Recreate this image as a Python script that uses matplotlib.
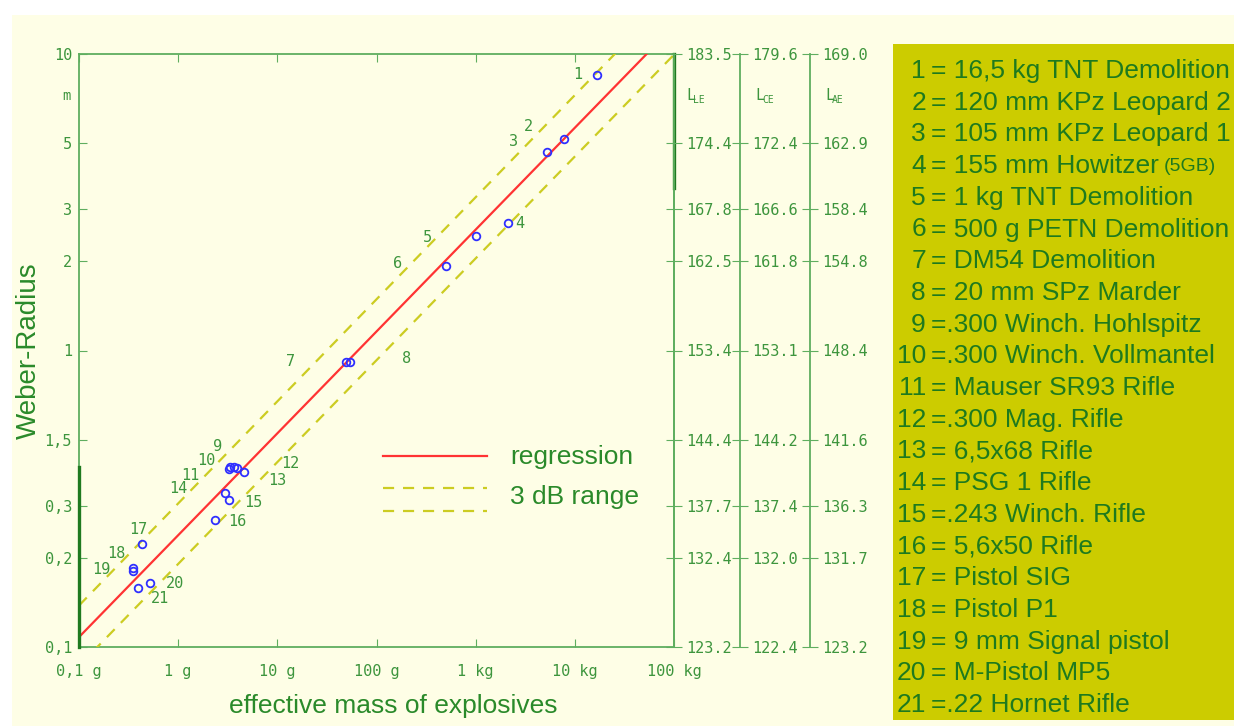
import matplotlib
matplotlib.use("Agg")
import matplotlib.pyplot as plt
from matplotlib.patches import Rectangle
import numpy as np

# --- data ---
point_ids = [str(i) for i in range(1, 22)]
mass_g = [16700, 7690, 5210, 2120, 1016, 506, 49.8, 54.6, 3.62, 3.35, 3.92,
          4.57, 3.27, 3.22, 2.94, 2.35, 0.430, 0.353, 0.353, 0.525, 0.397]
radius_m = [8.50, 5.17, 4.67, 2.69, 2.43, 1.93, 0.914, 0.914, 0.406, 0.406, 0.401,
            0.390, 0.313, 0.398, 0.331, 0.268, 0.2225, 0.1847, 0.1804, 0.1648, 0.1585]

# regression line and 3 dB band (end points, log-log straight lines)
reg_mass = [0.1, 100000]
reg_radius = [0.108, 12.44]
upper_radius = [0.1380, 16.05]
lower_radius = [0.0864, 9.95]

radius_ticks = [10, 5, 3, 2, 1, 0.5, 0.3, 0.2, 0.1]
radius_labels = ["10", "5", "3", "2", "1", "1,5", "0,3", "0,2", "0,1"]
mass_ticks = [0.1, 1, 10, 100, 1000, 10000, 100000]
mass_labels = ["0,1 g", "1 g", "10 g", "100 g", "1 kg", "10 kg", "100 kg"]
L_LE = ["183.5", "174.4", "167.8", "162.5", "153.4", "144.4", "137.7", "132.4", "123.2"]
L_CE = ["179.6", "172.4", "166.6", "161.8", "153.1", "144.2", "137.4", "132.0", "122.4"]
L_AE = ["169.0", "162.9", "158.4", "154.8", "148.4", "141.6", "136.3", "131.7", "123.2"]

legend_items = ["16,5 kg TNT Demolition", "120 mm KPz Leopard 2", "105 mm KPz Leopard 1",
                "155 mm Howitzer", "1 kg TNT Demolition", "500 g PETN Demolition",
                "DM54 Demolition", "20 mm SPz Marder", ".300 Winch. Hohlspitz",
                ".300 Winch. Vollmantel", "Mauser SR93 Rifle", ".300 Mag. Rifle",
                "6,5x68 Rifle", "PSG 1 Rifle", ".243 Winch. Rifle", "5,6x50 Rifle",
                "Pistol SIG", "Pistol P1", "9 mm Signal pistol", "M-Pistol MP5",
                ".22 Hornet Rifle"]

# label offsets of the point numbers, in pixels (dx right, dy up)
label_off = [(-19, 0), (-35, 12), (-33, 11), (12, 0), (-49, -1), (-49, 2), (-56, 1),
             (56, 4), (-16, 20), (-24, 6), (-47, -7), (47, 8), (48, 20), (-50, -19),
             (29, -10), (22, -1), (-4, 15), (-17, 14), (-32, 2), (25, -1), (22, -11)]

# --- colours ---
cream = "#fefee6"
spine_col = "#5fae5f"
tick_col = "#3d953d"
dark_green = "#2a8a2a"
box_col = "#cccc00"
box_text = "#1e7a1e"
mono = "DejaVu Sans Mono"
sans = "Liberation Sans"

W, H = 1234, 726
fig = plt.figure(figsize=(W / 100, H / 100), dpi=100)
fig.patch.set_facecolor("white")
fig.patches.append(Rectangle((12 / W, 0), 1 - 12 / W, 1 - 15 / H, transform=fig.transFigure,
                             facecolor=cream, edgecolor="none", zorder=-10))

ax = fig.add_axes([79 / W, 1 - 647 / H, 595 / W, 593 / H])
ax.set_facecolor(cream)
ax.set_xscale("log")
ax.set_yscale("log")
ax.set_xlim(0.1, 100000)
ax.set_ylim(0.1, 10)
for s in ax.spines.values():
    s.set_color(spine_col)
    s.set_linewidth(1.3)

ax.set_xticks(mass_ticks)
ax.set_xticklabels(mass_labels)
ax.set_yticks(radius_ticks)
ax.set_yticklabels(radius_labels)
ax.minorticks_off()
ax.tick_params(axis="x", which="both", direction="in", length=6, color=spine_col,
               top=True, bottom=True, labelcolor=tick_col, labelsize=11, pad=12)
ax.tick_params(axis="y", which="both", direction="in", length=6, color=spine_col,
               left=True, right=False, labelcolor=tick_col, labelsize=11, pad=5)
for lab in ax.get_xticklabels() + ax.get_yticklabels():
    lab.set_fontfamily(mono)

# thick dark spine segments
ax.plot([0, 0], [0, (647 - 467) / 593], transform=ax.transAxes, color="#1f7a1f",
        lw=2.4, clip_on=False, zorder=5)
ax.plot([1, 1], [1, 1 - (188 - 54) / 593], transform=ax.transAxes, color="#1f7a1f",
        lw=2.4, clip_on=False, zorder=5)

# regression and band
ax.plot(reg_mass, reg_radius, color="#ff3333", lw=1.6, zorder=3)
ax.plot(reg_mass, upper_radius, color="#cccc22", lw=1.6, ls=(0, (5, 4)), zorder=3)
ax.plot(reg_mass, lower_radius, color="#cccc22", lw=1.6, ls=(0, (5, 4)), zorder=3)

# measured points
ax.plot(mass_g, radius_m, ls="none", marker="o", ms=5.5, mfc="none", mec="#2f2fff",
        mew=1.3, zorder=4)
for pid, m, r, (dx, dy) in zip(point_ids, mass_g, radius_m, label_off):
    ax.annotate(pid, (m, r), xytext=(dx, dy), textcoords="offset pixels",
                ha="center", va="center", fontsize=11, color=tick_col, fontfamily=mono)

# legend drawn inside the axes
def ax_pt(px, py):
    return (px - 79) / 595, (647 - py) / 593

x0, _ = ax_pt(383, 0)
x1, _ = ax_pt(487, 0)
for py, col, ls in [(456, "#ff3333", "-"), (488, "#cccc22", (0, (5, 4))),
                    (511, "#cccc22", (0, (5, 4)))]:
    _, yy = ax_pt(0, py)
    ax.plot([x0, x1], [yy, yy], transform=ax.transAxes, color=col, lw=1.6, ls=ls)
tx, ty = ax_pt(510, 457)
ax.text(tx, ty, "regression", transform=ax.transAxes, fontsize=19, color=dark_green,
        fontfamily=sans, va="center", ha="left")
tx, ty = ax_pt(510, 497)
ax.text(tx, ty, "3 dB range", transform=ax.transAxes, fontsize=19, color=dark_green,
        fontfamily=sans, va="center", ha="left")

ax.set_xlabel("effective mass of explosives", fontsize=19, color=dark_green,
              fontfamily=sans, labelpad=12)
ax.xaxis.set_label_coords((393 - 79) / 595, -(706 - 647) / 593)
ax.xaxis.label.set_va("center")
ax.set_ylabel("Weber-Radius", fontsize=20, color=dark_green, fontfamily=sans, labelpad=2)
fig.text(66 / W, 1 - 96 / H, "m", fontsize=10, color=tick_col, fontfamily=mono,
         ha="center", va="center")

# level axes on the right
for i, (labels, pos) in enumerate([(L_LE, 1.0), (L_CE, (740 - 79) / 595),
                                   (L_AE, (810 - 79) / 595)]):
    tw = ax.twinx()
    tw.set_yscale("log")
    tw.set_ylim(0.1, 10)
    tw.patch.set_visible(False)
    for name, s in tw.spines.items():
        s.set_visible(name == "right")
    tw.spines["right"].set_color(spine_col)
    tw.spines["right"].set_linewidth(1.3)
    if i > 0:
        tw.spines["right"].set_position(("axes", pos))
    tw.set_yticks(radius_ticks)
    tw.set_yticklabels(labels)
    tw.minorticks_off()
    tw.tick_params(axis="y", which="both", direction="inout", length=12, color=spine_col,
                   labelcolor=tick_col, labelsize=11, pad=3)
    for lab in tw.get_yticklabels():
        lab.set_fontfamily(mono)

for px, sub in [(686, "LE"), (755, "CE"), (825, "AE")]:
    fig.text(px / W, 1 - 96 / H, "L", fontsize=11, color=tick_col, fontfamily=mono,
             ha="left", va="center")
    fig.text((px + 7) / W, 1 - 100 / H, sub, fontsize=7, color=tick_col, fontfamily=mono,
             ha="left", va="center")

# item list box
fig.patches.append(Rectangle((893 / W, 1 - 720 / H), (W - 893) / W, 676 / H,
                             transform=fig.transFigure, facecolor=box_col,
                             edgecolor="none", zorder=-5))
renderer = fig.canvas.get_renderer()
for k, (pid, item) in enumerate(zip(point_ids, legend_items)):
    yy = 1 - (71 + k * 31.7) / H
    fig.text(926 / W, yy, pid, fontsize=19, color=box_text, fontfamily=sans,
             ha="right", va="center")
    sep = "= " if not item.startswith(".") else "="
    t = fig.text(931 / W, yy, sep + item, fontsize=19, color=box_text, fontfamily=sans,
                 ha="left", va="center")
    if pid == "4":
        bb = t.get_window_extent(renderer)
        fig.text((bb.x1 + 5) / W, yy, "(5GB)", fontsize=14, color=box_text,
                 fontfamily=sans, ha="left", va="center")

fig.savefig("out.png", dpi=100, facecolor=fig.get_facecolor())
